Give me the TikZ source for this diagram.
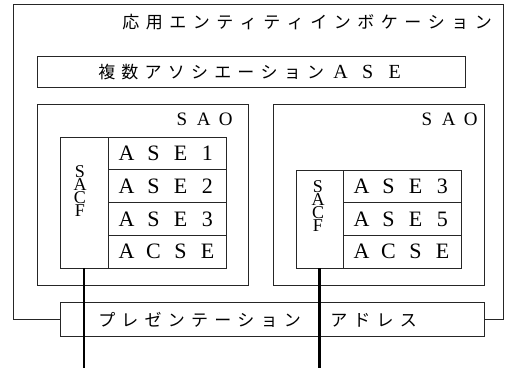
\documentclass[tikz,border=0pt]{standalone}
\usepackage{fontspec}
\setmainfont{Liberation Serif}
\newfontfamily\jp{Noto Sans CJK JP}
\newlength\pitch
\def\spcloop#1{\ifx\relax#1\else\hbox to\pitch{\hss#1\hss}\expandafter\spcloop\fi}
\newcommand\spaced[2]{\setlength\pitch{#1}\spcloop#2\relax}
\begin{document}
\begin{tikzpicture}[x=1pt,y=-1pt,
  frame/.style={draw=black!85, line width=0.9pt},
  box/.style={frame, anchor=north west, inner sep=0pt, outer sep=0pt},
  rowtext/.style={font=\fontsize{22}{24}\selectfont},
  saotext/.style={font=\fontsize{19}{20}\selectfont, inner sep=0pt, anchor=east},
  sacftext/.style={font=\fontsize{18}{13.2}\selectfont, align=center, inner sep=0pt},
  jptext/.style={font=\jp\fontsize{17}{20}\selectfont, inner sep=0pt, anchor=west},
  wire/.style={draw=black, line width=2.2pt}]
\useasboundingbox (0,0) rectangle (511,368);
% boxes
\node[box, minimum width=428pt, minimum height=31pt] (multi) at (37,56) {};
\node[box, minimum width=211pt, minimum height=181pt] (saoL) at (37,104) {};
\node[box, minimum width=211pt, minimum height=181pt] (saoR) at (273,104) {};
\node[box, minimum width=424pt, minimum height=34pt] (pres) at (60,302) {};
% outer frame
\coordinate (otl) at (13,4);
\coordinate (obr) at (503,319);
\draw[frame] (pres.west) -- (pres.west -| otl) -- (otl) -- (otl -| obr) -- (obr |- pres.east) -- (pres.east);
% left block
\node[box, minimum width=48pt, minimum height=131pt] (sacfL) at (60,137) {};
\node[box, rowtext, minimum width=118pt, minimum height=32.75pt] (l1) at (108,137) {\spaced{27pt}{ASE1}};
\node[box, rowtext, minimum width=118pt, minimum height=32.75pt] (l2) at (l1.south west) {\spaced{27pt}{ASE2}};
\node[box, rowtext, minimum width=118pt, minimum height=32.75pt] (l3) at (l2.south west) {\spaced{27pt}{ASE3}};
\node[box, rowtext, minimum width=118pt, minimum height=32.75pt] (l4) at (l3.south west) {\spaced{27pt}{ACSE}};
% right block
\node[box, minimum width=47pt, minimum height=98pt] (sacfR) at (296,170) {};
\node[box, rowtext, minimum width=118pt, minimum height=32.67pt] (r1) at (343,170) {\spaced{27pt}{ASE3}};
\node[box, rowtext, minimum width=118pt, minimum height=32.67pt] (r2) at (r1.south west) {\spaced{27pt}{ASE5}};
\node[box, rowtext, minimum width=118pt, minimum height=32.67pt] (r3) at (r2.south west) {\spaced{27pt}{ACSE}};
% texts
\node[jptext] (title) at (119,22) {\spaced{23.5pt}{応用エンティティインボケーション}};
\node[jptext] (multitext) at (95,72) {\spaced{23.2pt}{複数アソシエーション}{\rmfamily\fontsize{20}{20}\selectfont\spaced{27pt}{ASE}}};
\node[jptext] (prestext) at (95,320) {\spaced{23.2pt}{プレゼンテーション　アドレス}};
\node[saotext] (saoLt) at (237,119) {\spaced{22pt}{SAO}};
\node[saotext] (saoRt) at (482,119) {\spaced{22pt}{SAO}};
\node[sacftext] (sacfLt) at (80,191) {S\\A\\C\\F};
\node[sacftext] (sacfRt) at (318,206) {S\\A\\C\\F};
% wires
\coordinate (endL) at (sacfL.south |- 0,368);
\coordinate (endR) at (sacfR.south |- 0,368);
\draw[wire] (sacfL.south) -- (endL);
\draw[wire] (sacfR.south) -- (endR);
\end{tikzpicture}
\end{document}
